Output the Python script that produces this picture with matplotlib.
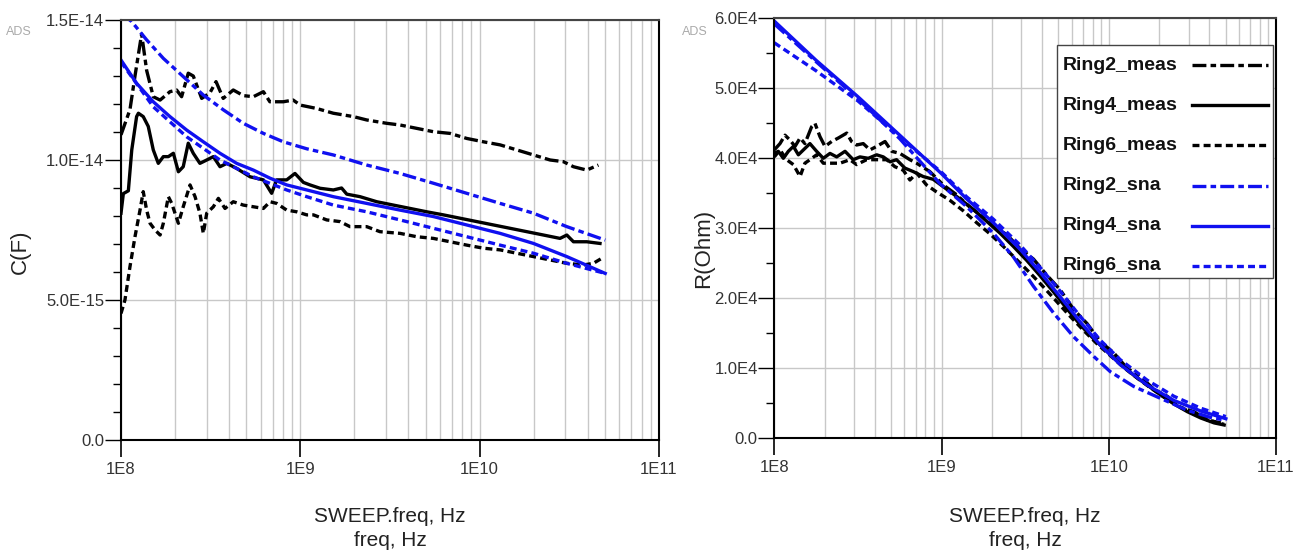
import numpy as np
import matplotlib
matplotlib.use("Agg")
import matplotlib.pyplot as plt
from matplotlib.lines import Line2D
from matplotlib.patches import Rectangle
from matplotlib.ticker import MultipleLocator, LogLocator, NullFormatter

plt.rcParams['font.family'] = ['Liberation Sans', 'DejaVu Sans']
plt.rcParams['lines.scale_dashes'] = False

# ---- data (x given as log10 of frequency in Hz) ----
# left panel: C in units of 1E-15 F
c_r2_meas_lf = [8.0, 8.05, 8.078, 8.115, 8.143, 8.18, 8.218, 8.273, 8.31, 8.338, 8.375, 8.403,
                8.45, 8.496, 8.53, 8.57, 8.626, 8.682, 8.738, 8.794, 8.83, 8.905, 8.96, 9.0,
                9.091, 9.184, 9.296, 9.37, 9.482, 9.556, 9.649, 9.742, 9.835, 9.928, 10.021,
                10.114, 10.207, 10.3, 10.393, 10.467, 10.523, 10.597, 10.662]
c_r2_meas = [10.9, 11.8, 13.0, 14.5, 13.2, 12.26, 12.14, 12.44, 12.5, 12.26, 13.1, 13.0,
             12.2, 12.4, 12.8, 12.2, 12.5, 12.3, 12.26, 12.44, 12.08, 12.08, 12.14, 11.96,
             11.84, 11.67, 11.55, 11.43, 11.31, 11.25, 11.13, 11.01, 10.95, 10.77, 10.65,
             10.54, 10.36, 10.18, 10.0, 9.94, 9.76, 9.64, 9.82]

c_r4_meas_lf = [8.0, 8.013, 8.041, 8.06, 8.087, 8.097, 8.124, 8.152, 8.18, 8.208, 8.236, 8.264,
                8.292, 8.32, 8.347, 8.375, 8.403, 8.44, 8.478, 8.515, 8.552, 8.59, 8.645, 8.72,
                8.794, 8.84, 8.868, 8.924, 8.97, 9.017, 9.054, 9.11, 9.184, 9.23, 9.259, 9.333,
                9.426, 9.519, 9.612, 9.705, 9.798, 9.891, 9.984, 10.077, 10.17, 10.263, 10.356,
                10.448, 10.486, 10.523, 10.597, 10.671]
c_r4_meas = [8.1, 8.8, 8.9, 10.36, 11.55, 11.67, 11.55, 11.2, 10.36, 9.88, 10.12, 10.12,
             10.24, 9.58, 9.76, 10.6, 10.24, 9.88, 10.0, 10.12, 9.76, 9.88, 9.7, 9.4,
             9.29, 8.81, 9.29, 9.29, 9.52, 9.2, 9.11, 8.99, 8.93, 9.0, 8.78, 8.69,
             8.51, 8.39, 8.27, 8.15, 8.04, 7.92, 7.80, 7.68, 7.56, 7.44, 7.32,
             7.20, 7.32, 7.08, 7.08, 7.02]

c_r6_meas_lf = [8.0, 8.022, 8.05, 8.078, 8.106, 8.124, 8.143, 8.162, 8.19, 8.218, 8.236, 8.264,
                8.283, 8.301, 8.32, 8.347, 8.385, 8.413, 8.44, 8.459, 8.478, 8.515, 8.543, 8.58,
                8.626, 8.682, 8.738, 8.794, 8.831, 8.868, 8.924, 8.98, 9.036, 9.073, 9.147,
                9.221, 9.277, 9.37, 9.444, 9.556, 9.649, 9.742, 9.835, 9.928, 10.021, 10.114,
                10.207, 10.3, 10.393, 10.486, 10.578, 10.634, 10.681]
c_r6_meas = [4.52, 5.0, 6.19, 7.26, 8.21, 8.87, 8.21, 7.74, 7.5, 7.32, 7.74, 8.69,
             8.45, 8.1, 7.74, 8.33, 9.11, 8.69, 8.1, 7.38, 8.1, 8.33, 8.63, 8.27,
             8.51, 8.39, 8.33, 8.27, 8.51, 8.45, 8.21, 8.15, 8.04, 8.04, 7.86,
             7.80, 7.62, 7.62, 7.44, 7.38, 7.26, 7.20, 7.08, 6.96, 6.85, 6.79,
             6.67, 6.55, 6.43, 6.31, 6.25, 6.31, 6.49]

c_r2_sna_lf = [8.0, 8.06, 8.143, 8.236, 8.347, 8.459, 8.571, 8.682, 8.794, 8.905, 9.036,
               9.184, 9.37, 9.556, 9.742, 9.928, 10.114, 10.3, 10.486, 10.70]
c_r2_sna = [15.25, 14.94, 14.29, 13.63, 12.98, 12.32, 11.79, 11.31, 10.95, 10.65, 10.4,
            10.18, 9.82, 9.52, 9.17, 8.81, 8.45, 8.1, 7.62, 7.14]

c_r4_sna_lf = [8.0, 8.087, 8.18, 8.273, 8.366, 8.459, 8.552, 8.645, 8.738, 8.831, 8.924,
               9.036, 9.184, 9.37, 9.556, 9.742, 9.928, 10.114, 10.3, 10.486, 10.70]
c_r4_sna = [13.57, 12.74, 12.08, 11.55, 11.07, 10.65, 10.24, 9.88, 9.64, 9.35, 9.11,
            8.93, 8.69, 8.45, 8.21, 7.98, 7.68, 7.38, 7.02, 6.55, 5.95]

c_r6_sna_lf = [8.0, 8.18, 8.366, 8.552, 8.738, 8.924, 9.036, 9.184, 9.37, 9.556, 9.742,
               9.928, 10.114, 10.3, 10.486, 10.70]
c_r6_sna = [13.5, 11.9, 10.83, 10.0, 9.4, 8.93, 8.69, 8.39, 8.15, 7.86, 7.56,
            7.26, 6.96, 6.67, 6.31, 5.95]

# right panel: R in units of 1E4 Ohm
r_r2_meas_lf = [8.0, 8.034, 8.064, 8.094, 8.124, 8.154, 8.183, 8.223, 8.243, 8.273, 8.303,
                8.343, 8.383, 8.433, 8.462, 8.492, 8.532, 8.572, 8.612, 8.662, 8.702, 8.751,
                8.811, 8.851, 8.93, 9.01, 9.09, 9.17, 9.25, 9.31, 9.39, 9.47, 9.55, 9.63,
                9.71, 9.79, 9.87, 9.95, 10.03, 10.11, 10.19, 10.27, 10.35, 10.43, 10.51,
                10.59, 10.67]
r_r2_meas = [4.12, 4.21, 4.33, 4.26, 4.17, 4.29, 4.21, 4.45, 4.50, 4.31, 4.17,
             4.24, 4.29, 4.36, 4.24, 4.19, 4.21, 4.12, 4.17, 4.24, 4.10, 4.07,
             3.98, 3.93, 3.81, 3.62, 3.48, 3.30, 3.16, 3.03, 2.91, 2.71, 2.56, 2.33,
             2.12, 1.84, 1.64, 1.38, 1.22, 1.00, 0.88, 0.70, 0.60, 0.44, 0.38,
             0.26, 0.22]

r_r4_meas_lf = [8.0, 8.024, 8.054, 8.084, 8.114, 8.144, 8.174, 8.213, 8.253, 8.293, 8.333,
                8.373, 8.423, 8.472, 8.512, 8.562, 8.612, 8.652, 8.692, 8.731, 8.781, 8.831,
                8.89, 8.95, 9.03, 9.11, 9.19, 9.27, 9.35, 9.43, 9.51, 9.59, 9.67, 9.75,
                9.83, 9.91, 9.99, 10.07, 10.15, 10.23, 10.31, 10.39, 10.47, 10.55, 10.63,
                10.69]
r_r4_meas = [4.07, 4.10, 4.00, 4.10, 4.17, 4.05, 4.12, 4.21, 4.10, 4.00, 4.07,
             4.02, 4.10, 3.98, 4.02, 4.00, 4.05, 4.02, 3.95, 3.98, 3.86, 3.81,
             3.74, 3.70, 3.56, 3.42, 3.27, 3.10, 2.93, 2.74, 2.54, 2.32, 2.09, 1.85,
             1.62, 1.42, 1.24, 1.06, 0.90, 0.76, 0.62, 0.49, 0.38, 0.29, 0.22,
             0.19]

r_r6_meas_lf = [8.0, 8.034, 8.074, 8.114, 8.154, 8.183, 8.213, 8.253, 8.293, 8.343, 8.393,
                8.452, 8.492, 8.552, 8.612, 8.672, 8.721, 8.771, 8.811, 8.851, 8.91, 8.97,
                9.05, 9.13, 9.21, 9.29, 9.37, 9.45, 9.53, 9.61, 9.69, 9.77, 9.85, 9.93,
                10.01, 10.09, 10.17, 10.25, 10.33, 10.41, 10.49, 10.57, 10.65, 10.69]
r_r6_meas = [4.02, 4.12, 3.98, 3.91, 3.74, 3.93, 3.98, 4.05, 3.93, 3.93, 3.93,
             3.98, 3.91, 3.98, 3.98, 3.98, 3.88, 3.83, 3.69, 3.79, 3.62, 3.52,
             3.40, 3.25, 3.08, 2.92, 2.74, 2.55, 2.36, 2.16, 1.95, 1.74, 1.54, 1.35,
             1.18, 1.01, 0.86, 0.72, 0.59, 0.47, 0.37, 0.29, 0.22, 0.20]

r_r2_sna_lf = [8.0, 8.25, 8.5, 8.75, 8.99, 9.15, 9.31, 9.43, 9.55, 9.67, 9.79, 9.91,
               10.01, 10.15, 10.31, 10.47, 10.62, 10.70]
r_r2_sna = [5.92, 5.38, 4.85, 4.28, 3.64, 3.31, 2.93, 2.59, 2.17, 1.79, 1.45, 1.17,
            0.95, 0.74, 0.57, 0.40, 0.29, 0.26]

r_r4_sna_lf = [8.0, 8.25, 8.5, 8.75, 9.0, 9.15, 9.31, 9.47, 9.59, 9.71, 9.83, 9.95,
               10.07, 10.23, 10.39, 10.55, 10.70]
r_r4_sna = [5.96, 5.40, 4.88, 4.33, 3.78, 3.42, 3.08, 2.70, 2.37, 2.02, 1.66, 1.33,
            1.05, 0.76, 0.54, 0.39, 0.28]

r_r6_sna_lf = [8.0, 8.25, 8.5, 8.75, 9.0, 9.15, 9.31, 9.47, 9.59, 9.71, 9.83, 9.95,
               10.07, 10.23, 10.39, 10.55, 10.70]
r_r6_sna = [5.65, 5.25, 4.82, 4.30, 3.80, 3.45, 3.13, 2.76, 2.44, 2.10, 1.74, 1.40,
            1.12, 0.83, 0.60, 0.43, 0.31]

labels = ['Ring2_meas', 'Ring4_meas', 'Ring6_meas', 'Ring2_sna', 'Ring4_sna', 'Ring6_sna']

# ---- styles ----
BLUE = '#1010f0'
DASHDOT = (0, (10, 3, 4, 3))
DASHED = (0, (5, 3))
LW = 2.4
styles = [('black', DASHDOT), ('black', '-'), ('black', DASHED),
          (BLUE, DASHDOT), (BLUE, '-'), (BLUE, DASHED)]

fig = plt.figure(figsize=(13.09, 5.54), dpi=100)
W, H = 1309, 554
ax1 = fig.add_axes([121 / W, 1 - 440 / H, (659 - 121) / W, 420 / H])
ax2 = fig.add_axes([774.3 / W, 1 - 438.3 / H, (1276 - 774.3) / W, 420 / H])


def style_axis(ax, yticks, ylabels, minor_step):
    ax.set_xscale('log')
    ax.set_xlim(1e8, 1e11)
    ax.set_ylim(yticks[0], yticks[-1])
    ax.set_xticks([1e8, 1e9, 1e10, 1e11])
    ax.set_xticklabels(['1E8', '1E9', '1E10', '1E11'])
    ax.xaxis.set_minor_locator(LogLocator(base=10, subs=np.arange(2, 10)))
    ax.xaxis.set_minor_formatter(NullFormatter())
    ax.set_yticks(yticks)
    ax.set_yticklabels(ylabels)
    ax.yaxis.set_minor_locator(MultipleLocator(minor_step))
    ax.grid(True, which='major', axis='both', color='#c8c8c8', lw=1.0)
    ax.grid(True, which='minor', axis='x', color='#c8c8c8', lw=1.0)
    ax.set_axisbelow(True)
    ax.tick_params(axis='x', which='major', direction='out', length=12.5, width=1.2,
                   pad=3, labelsize=12, labelcolor='#333333')
    ax.tick_params(axis='x', which='minor', length=0)
    ax.tick_params(axis='y', which='major', direction='out', length=11.5, width=1.0,
                   pad=0.5, labelsize=12, labelcolor='#333333')
    ax.tick_params(axis='y', which='minor', direction='out', length=5.5, width=1.0)
    for s in ax.spines.values():
        s.set_color('black')
        s.set_linewidth(1.5)
    ax.spines['top'].set_color('#444444')


# left panel
left_series = [(c_r2_meas_lf, c_r2_meas), (c_r4_meas_lf, c_r4_meas), (c_r6_meas_lf, c_r6_meas),
               (c_r2_sna_lf, c_r2_sna), (c_r4_sna_lf, c_r4_sna), (c_r6_sna_lf, c_r6_sna)]
for (lf, v), (col, ls) in zip(left_series, styles):
    ax1.plot(10 ** np.array(lf), np.array(v) * 1e-15, color=col, linestyle=ls, lw=LW)
style_axis(ax1, [0, 5e-15, 1e-14, 1.5e-14], ['0.0', '5.0E-15', '1.0E-14', '1.5E-14'], 1e-15)

# right panel
right_series = [(r_r2_meas_lf, r_r2_meas), (r_r4_meas_lf, r_r4_meas), (r_r6_meas_lf, r_r6_meas),
                (r_r2_sna_lf, r_r2_sna), (r_r4_sna_lf, r_r4_sna), (r_r6_sna_lf, r_r6_sna)]
for (lf, v), (col, ls) in zip(right_series, styles):
    ax2.plot(10 ** np.array(lf), np.array(v) * 1e4, color=col, linestyle=ls, lw=LW)
style_axis(ax2, [0, 1e4, 2e4, 3e4, 4e4, 5e4, 6e4],
           ['0.0', '1.0E4', '2.0E4', '3.0E4', '4.0E4', '5.0E4', '6.0E4'], 5e3)

# legend box drawn by hand: labels left-aligned, line samples in a column on the right
fig.add_artist(Rectangle((1057 / W, 1 - 278 / H), (1273 - 1057) / W, (278 - 45) / H,
                         transform=fig.transFigure, facecolor='white', edgecolor='#444444',
                         lw=1.0, zorder=5))
for i, (lab, (col, ls)) in enumerate(zip(labels, styles)):
    yc = 1 - (65 + i * 40.2) / H
    fig.text(1063 / W, yc, lab, ha='left', va='center', fontsize=14, fontweight='bold',
             color='#111111', zorder=6)
    fig.add_artist(Line2D([1192 / W, 1268 / W], [yc, yc], transform=fig.transFigure,
                          color=col, linestyle=ls, lw=LW, zorder=6))

# axis titles
fig.text(20 / W, 1 - 252 / H, 'C(F)', rotation=90, ha='center', va='center',
         fontsize=16, color='#222222')
fig.text(704 / W, 1 - 248 / H, 'R(Ohm)', rotation=90, ha='center', va='center',
         fontsize=16, color='#222222')
for xc in (390, 1025):
    fig.text(xc / W, 1 - 517 / H, 'SWEEP.freq, Hz', ha='center', va='center',
             fontsize=15, color='#222222')
    fig.text(xc / W, 1 - 540 / H, 'freq, Hz', ha='center', va='center',
             fontsize=15, color='#222222')
fig.text(19 / W, 1 - 32 / H, 'ADS', ha='center', va='center', fontsize=9, color='#aaaaaa')
fig.text(695 / W, 1 - 32 / H, 'ADS', ha='center', va='center', fontsize=9, color='#aaaaaa')

fig.savefig('out.png', dpi=100)
